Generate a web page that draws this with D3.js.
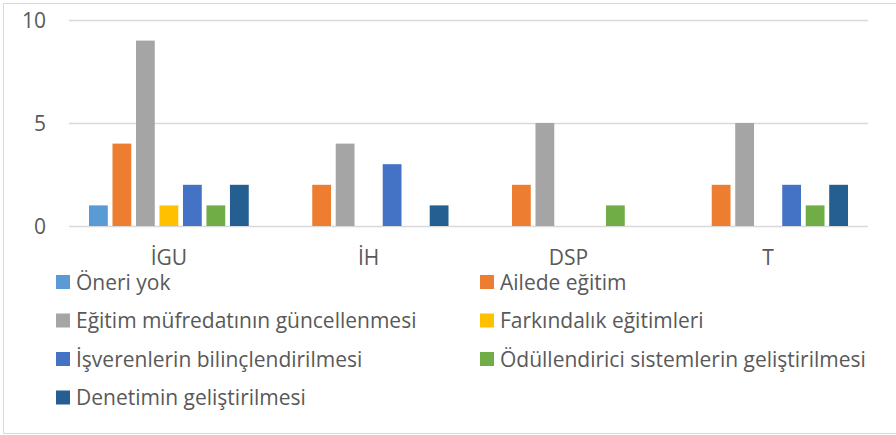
<!DOCTYPE html>
<html>
<head>
<meta charset="utf-8">
<script src="https://cdn.jsdelivr.net/npm/d3@7/dist/d3.min.js"></script>
<style>
  body { margin: 0; background: #fff; }
  text { font-family: "Open Sans", sans-serif; fill: #595959; }
</style>
</head>
<body>
<svg width="896" height="435"></svg>
<script>
// data
const categories = ["İGU", "İH", "DSP", "T"]
const seriesNames = [
  "Öneri yok",
  "Ailede eğitim",
  "Eğitim müfredatının güncellenmesi",
  "Farkındalık eğitimleri",
  "İşverenlerin bilinçlendirilmesi",
  "Ödüllendirici sistemlerin geliştirilmesi",
  "Denetimin geliştirilmesi"
]
const oneriYok = [1, 0, 0, 0]
const ailedeEgitim = [4, 2, 2, 2]
const mufredat = [9, 4, 5, 5]
const farkindalik = [1, 0, 0, 0]
const isverenler = [2, 3, 0, 2]
const odullendirici = [1, 0, 1, 1]
const denetim = [2, 1, 0, 2]
const yTicks = [0, 5, 10]
const colors = ["#5B9BD5", "#ED7D31", "#A5A5A5", "#FFC000", "#4472C4", "#70AD47", "#255E91"]

const seriesValues = [oneriYok, ailedeEgitim, mufredat, farkindalik, isverenler, odullendirici, denetim]

let svg = d3.select("svg")

// chart border
svg.append("rect")
   .attr("x", 3.5)
   .attr("y", 3.5)
   .attr("width", 900)
   .attr("height", 430)
   .attr("fill", "none")
   .attr("stroke", "#d9d9d9")
   .attr("stroke-width", 1)

let plot = { left: 69, right: 868, top: 20, bottom: 226 }

let x0 = d3.scaleBand()
           .domain(categories)
           .range([plot.left, plot.right])

let x1 = d3.scaleBand()
           .domain(d3.range(seriesNames.length))
           .range([20, x0.bandwidth() - 20])
           .paddingInner(0.2)

let y = d3.scaleLinear()
          .domain([0, 10])
          .range([plot.bottom, plot.top])

// gridlines
svg.append("g")
   .selectAll("line")
   .data(yTicks)
   .enter()
   .append("line")
   .attr("x1", plot.left)
   .attr("x2", plot.right)
   .attr("y1", d => Math.round(y(d)) + 0.5)
   .attr("y2", d => Math.round(y(d)) + 0.5)
   .attr("stroke", "#d9d9d9")
   .attr("stroke-width", 1.3)

// y labels
svg.append("g")
   .selectAll("text")
   .data(yTicks)
   .enter()
   .append("text")
   .attr("x", 46)
   .attr("y", d => y(d))
   .attr("dy", "0.36em")
   .attr("text-anchor", "end")
   .style("font-size", "21px")
   .text(d => d)

// bars
let groups = svg.append("g")
                .selectAll("g")
                .data(categories)
                .enter()
                .append("g")
                .attr("transform", d => "translate(" + x0(d) + ",0)")

groups.selectAll("rect")
      .data((c, ci) => seriesValues.map((vals, si) => ({ si: si, v: vals[ci] })))
      .enter()
      .append("rect")
      .filter(d => d.v > 0)
      .attr("x", d => x1(d.si))
      .attr("y", d => y(d.v))
      .attr("width", x1.bandwidth())
      .attr("height", d => y(0) - y(d.v))
      .attr("fill", d => colors[d.si])

// category labels
svg.append("g")
   .selectAll("text")
   .data(categories)
   .enter()
   .append("text")
   .attr("x", d => x0(d) + x0.bandwidth() / 2)
   .attr("y", 265)
   .attr("text-anchor", "middle")
   .style("font-size", "21px")
   .text(d => d)

// legend, two columns
let legendCols = [56, 480]
let legendRows = [282, 320.5, 359, 397.5]

let legend = svg.append("g")
                .selectAll("g")
                .data(seriesNames)
                .enter()
                .append("g")
                .attr("transform", (d, i) => "translate(" + legendCols[i % 2] + "," + legendRows[Math.floor(i / 2)] + ")")

legend.append("rect")
      .attr("x", 0)
      .attr("y", -7)
      .attr("width", 14)
      .attr("height", 14)
      .attr("fill", (d, i) => colors[i])

legend.append("text")
      .attr("x", 20)
      .attr("y", 0)
      .attr("dy", "0.36em")
      .style("font-size", "21px")
      .text(d => d)
</script>
</body>
</html>
